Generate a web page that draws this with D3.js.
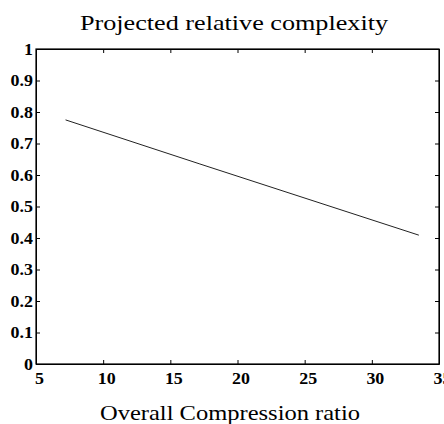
<!DOCTYPE html>
<html>
<head>
<meta charset="utf-8">
<script src="https://cdn.jsdelivr.net/npm/d3@7.9.0/dist/d3.min.js"></script>
<style>
  html, body { margin: 0; padding: 0; background: #fff; }
  svg { display: block; }
  .tick text { font-family: 'Liberation Serif', 'Times New Roman', serif; font-weight: bold; font-size: 16px; fill: #000; }
  .label { font-family: 'Liberation Serif', 'Times New Roman', serif; fill: #000; }
</style>
</head>
<body>
<div id="chart"></div>
<script>
// compression ratio vs projected relative complexity
const ratios = [7.2, 17.2, 33.5];
const complexity = [0.775, 0.635, 0.409];
const xTicks = [5, 10, 15, 20, 25, 30, 35];
const yTicks = [0, 0.1, 0.2, 0.3, 0.4, 0.5, 0.6, 0.7, 0.8, 0.9, 1];

const width = 444;
const height = 424;
const margin = { top: 49, right: 5, bottom: 60, left: 36 };
const stretch = 1.12; // the scan is a bit wider than tall

const usable = {
  left: margin.left,
  right: width - margin.right,
  top: margin.top,
  bottom: height - margin.bottom,
};

const svg = d3
  .select('#chart')
  .append('svg')
  .attr('width', width)
  .attr('height', height);

const xScale = d3.scaleLinear().domain([5, 35]).range([usable.left, usable.right]);
const yScale = d3.scaleLinear().domain([0, 1]).range([usable.bottom, usable.top]);

const fmtY = (d) => (d === 0 || d === 1 ? String(d) : d3.format('.1f')(d));

// bottom axis with inward ticks
const gx = svg
  .append('g')
  .attr('transform', `translate(0, ${usable.bottom})`)
  .call(d3.axisBottom(xScale).tickValues(xTicks).tickSizeInner(-4).tickSizeOuter(0).tickPadding(9));
gx.selectAll('.tick text').attr('dx', 3);

// top axis, ticks only
svg
  .append('g')
  .attr('transform', `translate(0, ${usable.top})`)
  .call(d3.axisTop(xScale).tickValues(xTicks).tickSizeInner(-4).tickSizeOuter(0).tickFormat(''));

// left axis
svg
  .append('g')
  .attr('transform', `translate(${usable.left}, 0)`)
  .call(d3.axisLeft(yScale).tickValues(yTicks).tickSizeInner(-4).tickSizeOuter(0).tickPadding(3).tickFormat(fmtY));

// right axis, ticks only
svg
  .append('g')
  .attr('transform', `translate(${usable.right}, 0)`)
  .call(d3.axisRight(yScale).tickValues(yTicks).tickSizeInner(-4).tickSizeOuter(0).tickFormat(''));

svg.selectAll('.domain').attr('stroke', '#000');
svg.selectAll('.tick line').attr('stroke', '#000');

svg.selectAll('.tick text').each(function () {
  const len = this.getComputedTextLength();
  if (len > 0) {
    d3.select(this).attr('textLength', len * stretch).attr('lengthAdjust', 'spacingAndGlyphs');
  }
});

svg
  .append('rect')
  .attr('x', usable.left)
  .attr('y', usable.top)
  .attr('width', usable.right - usable.left)
  .attr('height', usable.bottom - usable.top)
  .attr('fill', 'none')
  .attr('stroke', '#000')
  .attr('stroke-width', 1.2);

const line = d3
  .line()
  .x((d, i) => xScale(ratios[i]))
  .y((d) => yScale(d));

svg
  .append('path')
  .datum(complexity)
  .attr('d', line)
  .attr('fill', 'none')
  .attr('stroke', '#222')
  .attr('stroke-width', 1);

svg
  .append('text')
  .attr('class', 'label')
  .attr('x', 234)
  .attr('y', 30)
  .attr('text-anchor', 'middle')
  .attr('textLength', 308)
  .attr('lengthAdjust', 'spacingAndGlyphs')
  .style('font-size', '22px')
  .text('Projected relative complexity');

svg
  .append('text')
  .attr('class', 'label')
  .attr('x', 230)
  .attr('y', 420)
  .attr('text-anchor', 'middle')
  .attr('textLength', 260)
  .attr('lengthAdjust', 'spacingAndGlyphs')
  .style('font-size', '22px')
  .text('Overall Compression ratio');
</script>
</body>
</html>
